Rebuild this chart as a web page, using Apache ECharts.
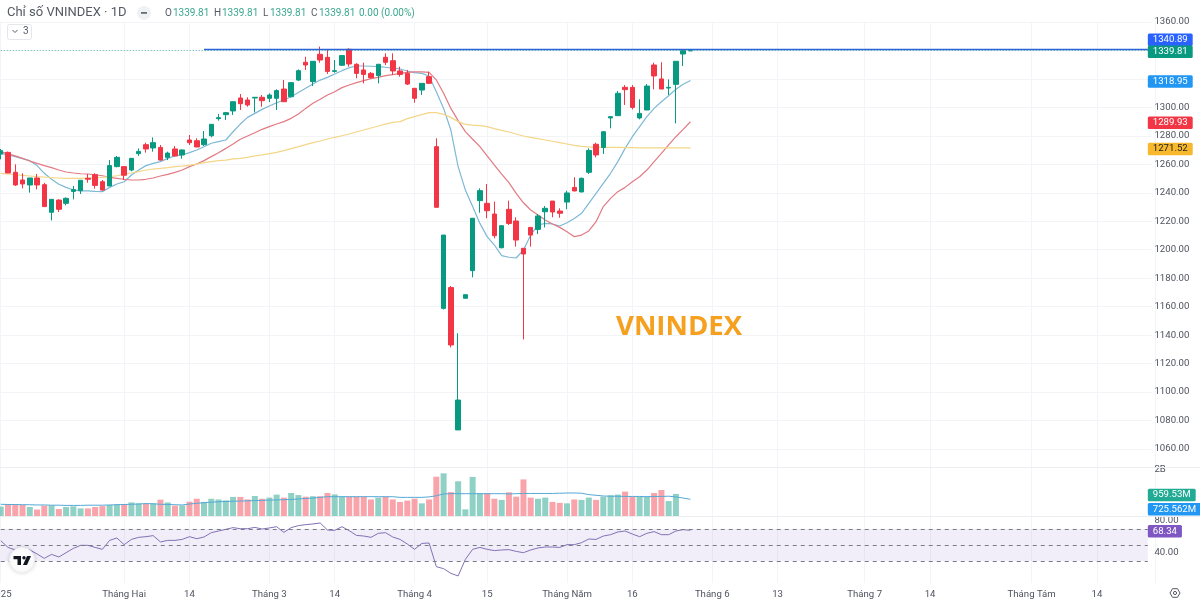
<!DOCTYPE html>
<html>
<head>
<meta charset="utf-8">
<title>VNINDEX</title>
<script src="https://cdn.jsdelivr.net/npm/echarts@6/dist/echarts.min.js"></script>
<style>
  html, body { margin: 0; padding: 0; background: #fff; overflow: hidden; }
  #chart { width: 1200px; height: 604px; }
</style>
</head>
<body>
<div id="chart"></div>
<script>
// daily candles
const opens = [1267.2,1268.4,1254.4,1249,1245.5,1250.4,1245.7,1226.3,1234.9,1232.6,1241,1241.5,1250.2,1252.7,1247.8,1244.8,1258.4,1258.4,1256,1267.5,1273.8,1271.5,1271.9,1264.9,1270.8,1266.6,1277.1,1276.6,1273.8,1280.1,1292.1,1294.9,1297.5,1306.6,1305.2,1306.6,1307.1,1306.4,1306.4,1312.9,1307.5,1319.2,1331.7,1318.1,1337.3,1335.2,1325.3,1329.6,1340.8,1330.3,1326.3,1323.9,1322.3,1335.2,1332.8,1325.6,1323.9,1313.4,1312.2,1321.6,1272.4,1158.8,1173.4,1073.4,1165.9,1185.3,1234.5,1232.6,1225.1,1201.4,1228.4,1220.2,1201,1215.7,1214.3,1226.7,1234.2,1227.2,1233.5,1243.8,1240.6,1254.4,1274.1,1271.9,1292.6,1294.2,1314.1,1314.1,1292.6,1298.2,1329.8,1320,1313.6,1316.2,1337.5,1339.81];
const closes = [1269.6,1253.9,1245.5,1246.2,1250.4,1245.5,1230.3,1235.4,1228.4,1236.1,1242.2,1248.8,1249.5,1245.2,1241.9,1259.1,1264.9,1252.3,1264.2,1269.1,1270.8,1275.2,1263,1267.9,1265.9,1270.1,1275.2,1272.2,1277.8,1288.1,1292.8,1296.3,1304,1302.6,1301.7,1307.1,1304.7,1308.7,1311.8,1304,1317.4,1325.8,1329.8,1332.4,1333.3,1325.3,1325.8,1336.4,1330.5,1323.9,1323.2,1320.9,1330.3,1331.7,1325.6,1323.2,1316.4,1306.4,1316.9,1316.9,1229.8,1210.3,1133.1,1094.4,1168.4,1222.1,1241.5,1227.4,1209.9,1216.9,1218.5,1206.8,1197,1210.3,1223.7,1229.1,1226.5,1225.6,1239.9,1241.3,1250.2,1269.8,1266.6,1282.9,1293.5,1309.9,1312.5,1300,1295.8,1315,1322.1,1312.9,1314.1,1332.4,1339.81,1339.81];
const lows = [1263.5,1253.9,1244.8,1243.1,1240.1,1242.4,1230.3,1220.6,1226.5,1231.2,1235.4,1239.2,1247.1,1242.9,1241.5,1244.8,1257.9,1249,1255.1,1265.9,1268.2,1268.9,1262.6,1263,1265.4,1264,1273.6,1272,1272.9,1279,1290.7,1291.2,1294.7,1298.2,1300.5,1296.5,1300.5,1303.8,1298.2,1303.8,1307.1,1318.5,1326.3,1315,1331.4,1323.5,1324.4,1329.1,1328.6,1320.4,1316.9,1320.4,1316.9,1329.8,1322.8,1321.6,1315.7,1303.3,1308.7,1316.4,1229.8,1158,1131.4,1073.4,1165.9,1180.6,1226,1222.1,1208,1201,1217.4,1202.2,1137,1202.2,1211,1215.7,1222.8,1222.5,1228.4,1241,1240.3,1253.2,1264.9,1267.3,1285.3,1294.2,1301.7,1298.6,1291.6,1298,1312.7,1312.9,1308.7,1288.8,1329.1,1339.81];
const highs = [1270.8,1269,1260,1253.7,1250.4,1253.2,1247,1235.4,1235.4,1236.8,1244.8,1248.8,1253.2,1253.7,1249,1263,1265.9,1258.8,1264.2,1271.2,1275.2,1278.9,1273.6,1268.9,1272.9,1270.5,1280.6,1278.3,1283.4,1288.1,1295.4,1296.8,1304,1309.4,1307.1,1307.1,1308.7,1309.9,1312.7,1319.2,1317.4,1326.7,1335.6,1332.4,1342.7,1340.3,1333.3,1336.4,1341.5,1331,1331.4,1324.9,1330.3,1338,1338,1328.6,1326.3,1313.4,1316.9,1325.1,1278.3,1210.3,1174.5,1141.3,1168.4,1222.1,1243.1,1246.2,1233.8,1216.9,1234.5,1222.8,1201,1216,1225.1,1230.7,1234.2,1229.1,1241.5,1250.9,1250.6,1271.2,1275.2,1283.4,1293.5,1311.5,1315.7,1315.7,1305.7,1316.4,1331.4,1331.7,1319.7,1332.4,1340.9,1339.81];

// moving averages on the price pane
const maFast = [1267.7,1266.6,1265.4,1264,1262.6,1259.1,1253.7,1249.5,1246,1243.8,1242,1241.3,1241.3,1241,1240.8,1243.8,1246.2,1247.8,1252.5,1256,1259.1,1260.7,1261.9,1264.2,1265.9,1266.6,1268.2,1270.1,1272.4,1274.8,1275.9,1277.1,1282.9,1288.3,1293,1295.8,1298.6,1301,1303.3,1305.2,1307.5,1310.4,1313.4,1316.4,1319.2,1321.1,1323.5,1325.8,1327.9,1329.1,1329.1,1328.9,1328.6,1328.2,1327.5,1327,1325.6,1324.4,1323.9,1322.1,1311,1299.3,1284.1,1258.4,1241.9,1230.3,1218.5,1209.2,1203.3,1195.8,1194.7,1194.2,1199.8,1210.3,1217.4,1218.5,1218.1,1216.7,1219,1222,1225.6,1232.6,1239.6,1246.6,1253.7,1261.9,1271.2,1279.4,1286.5,1293.5,1299.3,1304,1308.2,1312.7,1316.2,1318.95];
const maMid = [1268.9,1267.3,1265.9,1264.2,1262.3,1260.7,1259.1,1257.7,1256,1254.6,1253.9,1253.4,1253.2,1252.7,1252,1250.9,1250.2,1249.5,1249,1249,1249.5,1250.4,1251.8,1253,1254.4,1256,1258.4,1260.2,1262.6,1265.4,1268.2,1271.2,1274.3,1277.6,1279.9,1282.2,1284.6,1286.5,1288.3,1290,1292.3,1295.4,1299.3,1302.9,1305.7,1308.7,1311,1313.9,1315.7,1317.4,1318.8,1320.2,1321.1,1322.3,1323,1323.9,1324.6,1324.9,1324.9,1324.6,1319.3,1309.9,1299.3,1290.7,1283,1277.6,1272.4,1265.9,1259.5,1253.2,1247.1,1239.6,1233,1227.9,1224.4,1220.9,1218.1,1215.7,1212.7,1209.2,1210.3,1213.2,1219.7,1230.3,1236.1,1240.8,1243.8,1247.8,1251.3,1256,1261.9,1267.7,1273.6,1279.4,1284.6,1289.93];
const maSlow = [1253.7,1253.2,1252.7,1252.3,1251.8,1251.3,1251.1,1250.6,1250.4,1250.2,1250.2,1250.2,1250.4,1250.6,1250.9,1251.3,1252,1253.2,1253.9,1254.9,1256,1256.7,1257.2,1257.7,1258.4,1258.8,1259.5,1260.2,1261.2,1261.9,1262.6,1263,1263.8,1264.2,1264.9,1265.9,1266.6,1267.5,1268.4,1269.6,1271,1272.4,1273.8,1275.2,1276.4,1277.8,1279,1280.1,1281.3,1282.7,1284.1,1285.5,1286.9,1288.3,1289.5,1290,1292.1,1293.5,1294.9,1296.3,1296.3,1295.1,1293,1290,1288.1,1287.6,1287.2,1286.5,1285.1,1283.9,1282.7,1281.3,1279.9,1279,1278,1277.1,1276.2,1275.2,1274.3,1273.3,1272.6,1272.2,1271.9,1271.9,1271.9,1271.9,1271.8,1271.7,1271.5,1271.5,1271.5,1271.5,1271.5,1271.5,1271.5,1271.52];

// volume in billions (last two sessions have no bar)
const volumes = [.41,.49,.51,.49,.39,.28,.45,.46,.30,.39,.42,.33,.33,.39,.43,.48,.51,.51,.59,.55,.54,.55,.71,.59,.45,.46,.62,.75,.61,.75,.72,.68,.83,.83,.72,.87,.75,.80,.93,.80,1.0,.91,.84,.86,.86,1.0,.94,.84,.84,.84,.84,.72,.80,.84,.72,.61,.67,.75,.55,.72,1.71,1.855,1.04,1.51,.29,1.70,.99,.99,.75,.70,1.03,.84,1.59,.80,.75,.80,.61,.57,.55,.72,.70,.80,.70,.84,.90,.93,1.06,.84,.84,.84,1.0,1.13,.65,.95953,null,null];
const volumeMa = [.51,.50,.50,.49,.49,.48,.48,.47,.47,.46,.46,.46,.47,.47,.47,.48,.49,.50,.51,.52,.54,.53,.51,.50,.49,.48,.52,.55,.58,.60,.62,.63,.64,.65,.66,.67,.68,.69,.70,.71,.72,.74,.76,.78,.81,.84,.84,.84,.84,.84,.84,.84,.84,.84,.84,.81,.81,.81,.81,.83,.88,.96,.97,.97,.97,.97,.97,.97,.97,.97,.96,.97,.98,.98,.98,.98,.98,.99,1.0,1.0,.99,.93,.90,.87,.86,.86,.85,.85,.85,.84,.85,.85,.86,.83,.78,.725562];

// RSI pane
const rsi = [55.4,47,43.8,45,43.8,38.8,33.3,38.3,35,40.4,45.8,49.6,49.6,47,44.6,55.8,58.8,50.4,57,59.6,60.4,61.7,53.8,55.8,55.8,57,60.4,57.9,60,65.4,67.5,69.6,71.7,70.4,70.4,72,70,71.3,72.9,65.8,71.7,74.2,75.4,76.3,77.5,68.7,68.3,72.9,67.9,62,61.2,59.6,64.6,65.4,60,57,51.2,44.6,52,52.5,22.9,20.4,14.6,11.3,32,44.6,47,44.6,43,43.8,44.2,42,40.4,43.8,46.3,47.5,47.5,47,50.4,50.4,52.9,57.5,57,61.2,62.9,66.3,67.5,63.7,60.4,64.6,66.7,62.9,62.9,67.5,69.2,68.34];

// time axis: slot index -> label, the slots run on into the empty future
const slotCount = 159;
const tickLabels = {0:'2025',17:'Tháng Hai',26:'14',37:'Tháng 3',46:'14',57:'Tháng 4',67:'15',78:'Tháng Năm',87:'16',98:'Tháng 6',107:'13',119:'Tháng 7',128:'14',142:'Tháng Tám',151:'14'};
const categories = [];
for (let i = 0; i < slotCount; i++) categories.push(tickLabels[i] || '');

const GREEN = '#089981';
const RED = '#f23645';
const TEXT = '#4f5360';
const FONT = 'Roboto';
const LAST = slotCount - 1;
const BAND = 7.26;
const paneLeft = 0.74 - BAND / 2;
const paneWidth = BAND * slotCount;

const candles = opens.map((o, i) => [o, closes[i], lows[i], highs[i]]);

function hasLabel(i, v) { return v !== ''; }

// coloured value tag sitting just right of the panes, on an invisible line
function tag(value, text, bg, dy, fg) {
    return [{
        coord: [LAST - 1, value],
        lineStyle: { width: 0, color: 'transparent' },
        label: {
            show: true, position: 'end', distance: 0, formatter: text, opacity: 1,
            backgroundColor: bg, color: fg || '#fff', padding: [1.5, 5, 1, 5], borderRadius: 1.5,
            fontFamily: FONT, fontSize: 9.6, offset: [0, 1 + (dy || 0)]
        }
    }, { coord: [LAST, value] }];
}

function xAxis(gridIndex, extra) {
    return Object.assign({
        type: 'category', gridIndex: gridIndex, data: categories,
        axisLine: { show: false }, axisTick: { show: false },
        axisLabel: { show: false }, splitLine: { show: false }
    }, extra);
}

function headerText(x, y, text, color, size) {
    return { type: 'text', x: x, y: y, z: 20, style: {
        text: text, fill: color, font: (size || 10) + 'px ' + FONT, textVerticalAlign: 'middle'
    } };
}

const option = {
    animation: false,
    backgroundColor: '#fff',
    grid: [
        { left: paneLeft, width: paneWidth, top: 22, height: 427, outerBoundsMode: 'none' },
        { left: paneLeft, width: paneWidth, top: 467, height: 49, outerBoundsMode: 'none' },
        { left: paneLeft, width: paneWidth, top: 521, height: 64, outerBoundsMode: 'none' },
        // only carries the vertical grid lines, shifted so they land on candle centres
        { left: 0.74, width: paneWidth, top: 22, height: 561, outerBoundsMode: 'none' }
    ],
    xAxis: [
        xAxis(0),
        xAxis(1),
        xAxis(2, { axisLabel: {
            show: true, interval: hasLabel, color: TEXT, fontFamily: FONT, fontSize: 9.6, margin: 5, hideOverlap: false
        } }),
        xAxis(3, { splitLine: { show: true, interval: hasLabel, lineStyle: { color: '#f2f4f8', width: 1 } } })
    ],
    yAxis: [
        {
            type: 'value', gridIndex: 0, position: 'right', min: 1060, max: 1360, interval: 20,
            axisLine: { show: false }, axisTick: { show: false },
            splitLine: { lineStyle: { color: '#f2f4f8', width: 1 } },
            axisLabel: {
                color: TEXT, fontFamily: FONT, fontSize: 9.6, margin: 3, padding: [3, 0, 0, 0],
                formatter: v => (v === 1340 || v === 1320) ? '' : v.toFixed(2)
            }
        },
        {
            type: 'value', gridIndex: 1, position: 'right', min: 0, max: 2.13, interval: 2,
            axisLine: { show: false }, axisTick: { show: false }, splitLine: { show: false },
            axisLabel: {
                color: TEXT, fontFamily: FONT, fontSize: 9.6, margin: 3, padding: [3, 0, 0, 0],
                formatter: v => v === 2 ? '2B' : ''
            }
        },
        {
            type: 'value', gridIndex: 2, position: 'right', min: 0, max: 80, interval: 40,
            axisLine: { show: false }, axisTick: { show: false }, splitLine: { show: false },
            axisLabel: {
                color: TEXT, fontFamily: FONT, fontSize: 9.6, margin: 3, padding: [3, 0, 0, 0],
                formatter: v => v === 0 ? '' : v.toFixed(2)
            }
        },
        { type: 'value', gridIndex: 3, show: false }
    ],
    series: [
        {
            name: 'MA nhanh', type: 'line', xAxisIndex: 0, yAxisIndex: 0, data: maFast,
            showSymbol: false, silent: true, lineStyle: { color: '#7db8d6', width: 1.2 },
            markLine: { silent: true, symbol: 'none', data: [tag(1318.95, '1318.95', '#2196f3')] }
        },
        {
            name: 'MA vừa', type: 'line', xAxisIndex: 0, yAxisIndex: 0, data: maMid,
            showSymbol: false, silent: true, lineStyle: { color: '#e27a82', width: 1.2 },
            markLine: { silent: true, symbol: 'none', data: [tag(1289.93, '1289.93', RED)] }
        },
        {
            name: 'MA chậm', type: 'line', xAxisIndex: 0, yAxisIndex: 0, data: maSlow,
            showSymbol: false, silent: true, lineStyle: { color: '#f4d688', width: 1.2 },
            markLine: { silent: true, symbol: 'none', data: [tag(1271.52, '1271.52', '#f7b82e', 0, '#222')] }
        },
        {
            name: 'VNINDEX', type: 'candlestick', xAxisIndex: 0, yAxisIndex: 0, data: candles,
            barWidth: 5, silent: true, z: 3,
            itemStyle: { color: GREEN, color0: RED, borderColor: GREEN, borderColor0: RED, borderWidth: 1 },
            markLine: {
                silent: true, symbol: 'none', label: { show: false }, z: 5,
                data: [
                    [{ coord: [0, 1339.81], lineStyle: { color: 'rgba(8,153,129,0.65)', width: 1, type: [1, 2] } }, { coord: [LAST, 1339.81] }],
                    [{ coord: [28, 1340.89], lineStyle: { color: '#2a63d4', width: 1.3, type: 'solid' } }, { coord: [LAST, 1340.89] }],
                    tag(1340.89, '1340.89', '#2962ff', -10.5),
                    tag(1339.81, '1339.81', GREEN)
                ]
            }
        },
        {
            name: 'Khối lượng', type: 'bar', xAxisIndex: 1, yAxisIndex: 1, data: volumes,
            barWidth: 6, silent: true,
            itemStyle: {
                color: p => closes[p.dataIndex] >= opens[p.dataIndex] ? 'rgba(8,153,129,0.45)' : 'rgba(242,54,69,0.45)'
            },
            markLine: { silent: true, symbol: 'none', data: [tag(0.95953, '959.53M', '#22ab94')] }
        },
        {
            name: 'MA khối lượng', type: 'line', xAxisIndex: 1, yAxisIndex: 1, data: volumeMa,
            showSymbol: false, silent: true, lineStyle: { color: '#55a9d6', width: 1 },
            markLine: { silent: true, symbol: 'none', data: [tag(0.725562, '725.562M', '#2196f3', 9)] }
        },
        {
            name: 'RSI', type: 'line', xAxisIndex: 2, yAxisIndex: 2, data: rsi,
            showSymbol: false, silent: true, z: 4, lineStyle: { color: '#8271b5', width: 1 },
            markArea: {
                silent: true, itemStyle: { color: 'rgba(126,87,194,0.1)' },
                data: [[{ coord: [0, 70] }, { coord: [LAST, 30] }]]
            },
            markLine: {
                silent: true, symbol: 'none', label: { show: false },
                lineStyle: { color: '#787c87', width: 1, type: [4, 4] },
                data: [
                    [{ coord: [0, 70] }, { coord: [LAST, 70] }],
                    [{ coord: [0, 50] }, { coord: [LAST, 50] }],
                    [{ coord: [0, 30] }, { coord: [LAST, 30] }],
                    tag(68.34, '68.34', '#7e57c2')
                ]
            }
        },
        { type: 'line', xAxisIndex: 3, yAxisIndex: 3, data: [], silent: true }
    ],
    graphic: [
        // pane separators
        { type: 'line', z: 1, shape: { x1: 0, y1: 467.5, x2: 1200, y2: 467.5 }, style: { stroke: '#eceef2', lineWidth: 1 } },
        { type: 'line', z: 1, shape: { x1: 0, y1: 516.5, x2: 1200, y2: 516.5 }, style: { stroke: '#eceef2', lineWidth: 1 } },

        // header line
        headerText(7, 13, 'Chỉ số VNINDEX · 1D', '#555963', 13),
        { type: 'circle', z: 20, shape: { cx: 144, cy: 13, r: 7 }, style: { fill: '#eff1f5' } },
        { type: 'rect', z: 21, shape: { x: 141, y: 12, width: 6, height: 1.8 }, style: { fill: '#6a6d78' } },
        headerText(165, 13, 'O', '#555963'), headerText(173, 13, '1339.81', '#3ba88f'),
        headerText(214, 13, 'H', '#555963'), headerText(222, 13, '1339.81', '#3ba88f'),
        headerText(263, 13, 'L', '#555963'), headerText(270, 13, '1339.81', '#3ba88f'),
        headerText(311, 13, 'C', '#555963'), headerText(319, 13, '1339.81', '#3ba88f'),
        headerText(359, 13, '0.00 (0.00%)', '#3ba88f'),

        // collapsed indicators box
        { type: 'rect', z: 20, shape: { x: 7.5, y: 24.5, width: 24, height: 15, r: 2 }, style: { fill: '#fff', stroke: '#e4e6eb', lineWidth: 1 } },
        { type: 'polyline', z: 21, shape: { points: [[12.5, 30], [15, 32.5], [17.5, 30]] }, style: { fill: 'none', stroke: '#555963', lineWidth: 1 } },
        headerText(23, 31.5, '3', '#555963', 10),

        // watermark caption
        { type: 'text', z: 20, x: 616, y: 327, style: {
            text: 'VNINDEX', fill: '#f5a01f', font: 'bold 27.6px "Open Sans"', textVerticalAlign: 'middle'
        } },

        // logo badge
        { type: 'circle', z: 20, shape: { cx: 22, cy: 560, r: 12.5 }, style: { fill: '#fff', stroke: '#eef0f4', lineWidth: 1, shadowBlur: 4, shadowColor: 'rgba(0,0,0,0.15)' } },
        { type: 'polygon', z: 21, shape: { points: [[13.5, 556], [21, 556], [21, 565], [17.5, 565], [17.5, 559.3], [13.5, 559.3]] }, style: { fill: '#131722' } },
        { type: 'circle', z: 21, shape: { cx: 24, cy: 557.8, r: 1.7 }, style: { fill: '#131722' } },
        { type: 'polygon', z: 21, shape: { points: [[27, 556], [31, 556], [27, 565], [23, 565]] }, style: { fill: '#131722' } },

        // settings icon
        { type: 'polygon', z: 20, shape: { points: [[1170, 593], [1172.5, 588.7], [1177.5, 588.7], [1180, 593], [1177.5, 597.3], [1172.5, 597.3]] }, style: { fill: 'none', stroke: '#555963', lineWidth: 1 } },
        { type: 'circle', z: 20, shape: { cx: 1175, cy: 593, r: 1.6 }, style: { fill: 'none', stroke: '#555963', lineWidth: 1 } }
    ]
};

const chart = echarts.init(document.getElementById('chart'), null, { renderer: 'canvas' });
chart.setOption(option);
</script>
</body>
</html>
